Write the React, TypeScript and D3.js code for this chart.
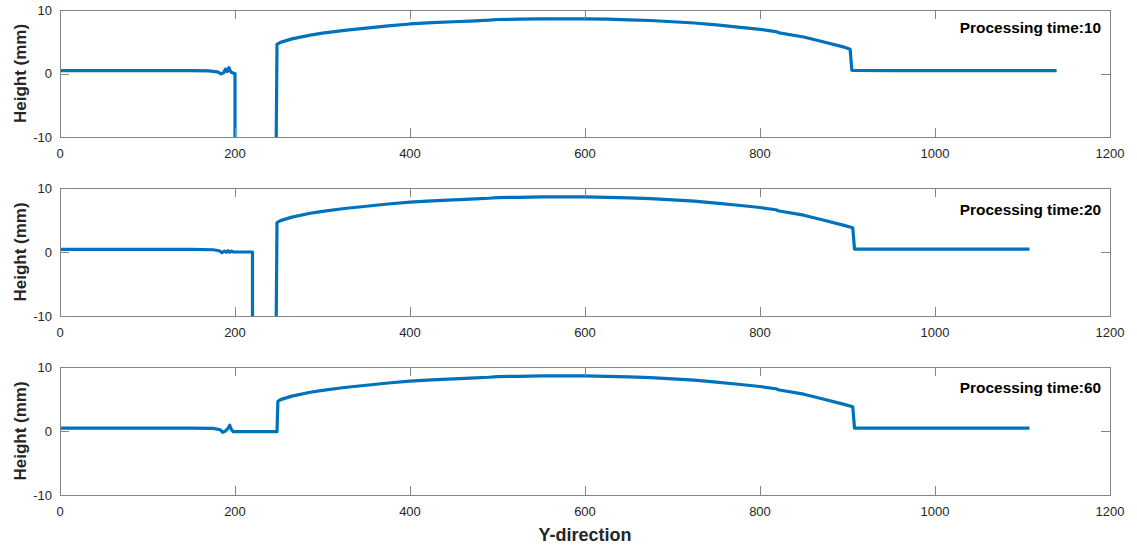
import React from "react";
import * as d3 from "d3";

// ---------- data ----------
const xTicks = [0, 200, 400, 600, 800, 1000, 1200];
const yTicks = [-10, 0, 10];
const panelLabels = ["Processing time:10", "Processing time:20", "Processing time:60"];

const ydir10 = [0, 50, 100, 150, 170, 180, 184, 187, 189, 191, 193, 195, 197, 199, 200, 200, 247, 248, 252, 265, 286, 300, 325, 350, 375, 400, 425, 450, 475, 490, 500, 525, 550, 575, 600, 625, 650, 675, 700, 725, 750, 775, 800, 818, 822, 850, 872, 895, 903, 905, 950, 1000, 1050, 1100, 1139];
const height10 = [0.45, 0.45, 0.45, 0.45, 0.4, 0.25, -0.05, 0.1, 0.7, 0.3, 0.9, 0.3, 0.1, 0.0, 0.0, -12, -12, 4.6, 4.9, 5.45, 6.05, 6.35, 6.8, 7.15, 7.5, 7.8, 8.0, 8.15, 8.3, 8.4, 8.5, 8.55, 8.6, 8.6, 8.6, 8.55, 8.45, 8.35, 8.15, 7.95, 7.65, 7.3, 6.95, 6.6, 6.4, 5.75, 5.0, 4.2, 3.8, 0.5, 0.45, 0.45, 0.45, 0.45, 0.45];

const ydir20 = [0, 50, 100, 150, 175, 182, 185, 188, 190, 192, 194, 196, 198, 220, 220, 247, 248, 252, 265, 286, 300, 325, 350, 375, 400, 425, 450, 475, 490, 500, 525, 550, 575, 600, 625, 650, 675, 700, 725, 750, 775, 800, 818, 822, 850, 872, 895, 906, 908, 950, 1000, 1050, 1108];
const height20 = [0.4, 0.4, 0.4, 0.4, 0.35, 0.2, -0.1, 0.15, -0.05, 0.2, -0.05, 0.15, 0.0, 0.0, -12, -12, 4.6, 4.9, 5.45, 6.05, 6.35, 6.8, 7.15, 7.5, 7.8, 8.0, 8.15, 8.3, 8.4, 8.5, 8.55, 8.6, 8.6, 8.6, 8.55, 8.45, 8.35, 8.15, 7.95, 7.65, 7.3, 6.95, 6.6, 6.4, 5.75, 5.0, 4.2, 3.8, 0.45, 0.45, 0.45, 0.45, 0.45];

const ydir60 = [0, 50, 100, 150, 175, 183, 186, 189, 192, 194, 196, 198, 248, 249, 252, 265, 286, 300, 325, 350, 375, 400, 425, 450, 475, 490, 500, 525, 550, 575, 600, 625, 650, 675, 700, 725, 750, 775, 800, 818, 822, 850, 872, 895, 906, 908, 950, 1000, 1050, 1108];
const height60 = [0.45, 0.45, 0.45, 0.45, 0.4, 0.2, -0.2, 0.0, 0.4, 0.9, 0.2, -0.1, -0.1, 4.6, 4.9, 5.45, 6.05, 6.35, 6.8, 7.15, 7.5, 7.8, 8.0, 8.15, 8.3, 8.4, 8.5, 8.55, 8.6, 8.6, 8.6, 8.55, 8.45, 8.35, 8.15, 7.95, 7.65, 7.3, 6.95, 6.6, 6.4, 5.75, 5.0, 4.2, 3.8, 0.45, 0.45, 0.45, 0.45, 0.45];

const seriesX = [ydir10, ydir20, ydir60];
const seriesY = [height10, height20, height60];

// ---------- layout ----------
const W = 1137;
const H = 548;
const left = 60;
const right = 1110;
const tops = [10, 188, 367];
const bottoms = [137, 316, 495];
const labelBaselines = [33, 215, 393];
const FONT = "'Liberation Sans', Arial, Helvetica, sans-serif";
const LINE = "#0072BD";
const AX = "#858585";
const TXT = "#262626";
const TICK = 9;

const x = d3.scaleLinear().domain([0, 1200]).range([left, right]);

function Panel({ i }: { i: number }) {
  const y = d3.scaleLinear().domain([-10, 10]).range([bottoms[i], tops[i]]);
  const pts: [number, number][] = seriesX[i].map((v, k) => [v, seriesY[i][k]]);
  const line = d3
    .line<[number, number]>()
    .x((d) => x(d[0]))
    .y((d) => y(d[1]));
  const clipId = `clip${i}`;
  const top = tops[i];
  const bot = bottoms[i];
  return (
    <g>
      <defs>
        <clipPath id={clipId}>
          <rect x={left} y={top} width={right - left} height={bot - top} />
        </clipPath>
      </defs>
      <rect x={left} y={top} width={right - left} height={bot - top} fill="#fff" />
      <path
        d={line(pts) || ""}
        fill="none"
        stroke={LINE}
        strokeWidth={3.2}
        strokeLinejoin="round"
        clipPath={`url(#${clipId})`}
      />
      {/* box */}
      <rect x={left + 0.5} y={top + 0.5} width={right - left} height={bot - top} fill="none" stroke={AX} strokeWidth={1} />
      {/* x ticks */}
      {xTicks.map((t) => (
        <g key={"x" + t}>
          <line x1={Math.round(x(t)) + 0.5} x2={Math.round(x(t)) + 0.5} y1={bot} y2={bot - TICK} stroke={AX} />
          <line x1={Math.round(x(t)) + 0.5} x2={Math.round(x(t)) + 0.5} y1={top} y2={top + TICK} stroke={AX} />
          <text x={x(t)} y={bot + 21} textAnchor="middle" fontSize={13} fill={TXT} fontFamily={FONT}>
            {t}
          </text>
        </g>
      ))}
      {/* y ticks */}
      {yTicks.map((t) => (
        <g key={"y" + t}>
          <line x1={left} x2={left + TICK} y1={Math.round(y(t)) + 0.5} y2={Math.round(y(t)) + 0.5} stroke={AX} />
          <line x1={right} x2={right - TICK} y1={Math.round(y(t)) + 0.5} y2={Math.round(y(t)) + 0.5} stroke={AX} />
          <text x={left - 8} y={y(t)} dy="0.35em" textAnchor="end" fontSize={13} fill={TXT} fontFamily={FONT}>
            {t}
          </text>
        </g>
      ))}
      <text
        transform={`translate(20,${(top + bot) / 2}) rotate(-90)`}
        textAnchor="middle"
        dy="0.35em"
        fontSize={17}
        fontWeight="bold"
        fill={TXT}
        fontFamily={FONT}
      >
        Height (mm)
      </text>
      <text x={1101} y={labelBaselines[i]} textAnchor="end" fontSize={15.4} fontWeight="bold" fill="#000" fontFamily={FONT}>
        {panelLabels[i]}
      </text>
    </g>
  );
}

export default function App() {
  return (
    <svg
      width={W}
      height={H}
      style={{ position: "absolute", left: 0, top: 0, background: "#fff" }}
    >
      <rect x={0} y={0} width={W} height={H} fill="#fff" />
      {[0, 1, 2].map((i) => (
        <Panel key={i} i={i} />
      ))}
      <text
        x={(left + right) / 2}
        y={541}
        textAnchor="middle"
        fontSize={18}
        fontWeight="bold"
        fill={TXT}
        fontFamily={FONT}
      >
        Y-direction
      </text>
    </svg>
  );
}
